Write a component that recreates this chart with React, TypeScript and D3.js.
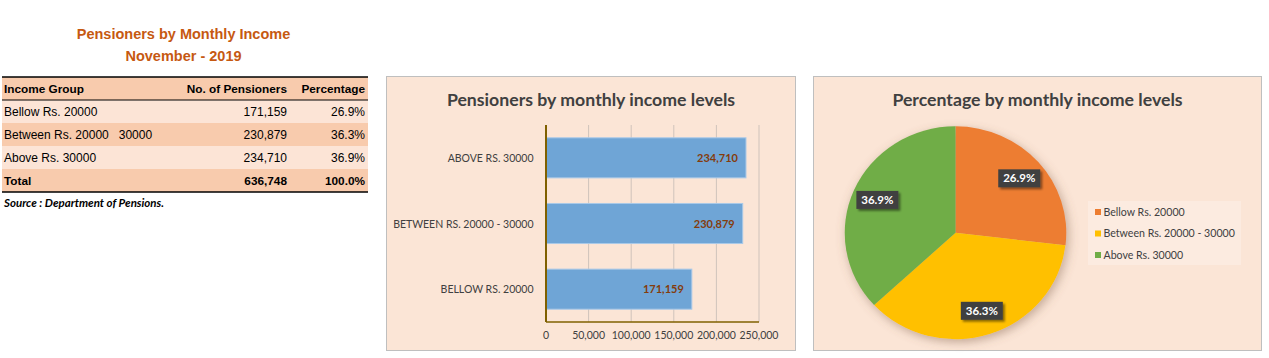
import React from "react";
import * as d3 from "d3";

const categories = ["Bellow Rs. 20000", "Between Rs. 20000 - 30000", "Above Rs. 30000"];
const tableLabels = ["Bellow Rs. 20000", "Between Rs. 20000   30000", "Above Rs. 30000"];
const pensioners = [171159, 230879, 234710];
const percentages = [26.9, 36.3, 36.9];
const totalPensioners = 636748;
const totalPercent = 100.0;
const xTicks = [0, 50000, 100000, 150000, 200000, 250000];
const sliceColors = ["#ed7d31", "#ffc000", "#70ad47"];

const fmt = d3.format(",");

export default function App() {
  // ---------- Table ----------
  const tX0 = 2, tX1 = 368;
  const rowTops = [77, 100, 123, 146, 169, 192];
  const rowFills = ["#f8cbad", "#fce4d6", "#f8cbad", "#fce4d6", "#f8cbad"];
  const tableRows = [
    ["Income Group", "No. of Pensioners", "Percentage"],
    ...tableLabels.map((l, i) => [l, fmt(pensioners[i]), percentages[i].toFixed(1) + "%"]),
    ["Total", fmt(totalPensioners), totalPercent.toFixed(1) + "%"],
  ];

  // ---------- Bar chart ----------
  const bx0 = 546, bx1 = 759, by0 = 125, by1 = 322;
  const x = d3.scaleLinear().domain([0, 250000]).range([bx0, bx1]);
  const barOrder = [2, 1, 0];
  const y = d3
    .scaleBand<number>()
    .domain(barOrder)
    .range([by0, by1])
    .paddingInner(0.39)
    .paddingOuter(0.195);

  // ---------- Pie ----------
  const cx = 955.5, cy = 232.8, r = 106.5;
  const pie = d3.pie<number>().sort(null).value((d) => d)(percentages);
  const arc = d3.arc<d3.PieArcDatum<number>>().innerRadius(0).outerRadius(r);
  const labelArc = d3.arc<d3.PieArcDatum<number>>().innerRadius(80).outerRadius(84);

  const font = "Lato, 'Open Sans', sans-serif";
  const arial = "'Liberation Sans', Arial, sans-serif";

  return (
    <svg width={1269} height={358} style={{ position: "absolute", left: 0, top: 0 }}>
      <defs>
        <filter id="pieShadow" x="-30%" y="-30%" width="160%" height="160%">
          <feDropShadow dx="2" dy="3" stdDeviation="5" floodColor="#7a5a45" floodOpacity="0.45" />
        </filter>
        <filter id="lblShadow" x="-30%" y="-30%" width="170%" height="180%">
          <feDropShadow dx="2" dy="2" stdDeviation="1.2" floodColor="#000" floodOpacity="0.45" />
        </filter>
      </defs>
      <rect x={0} y={0} width={1269} height={358} fill="#ffffff" />

      {/* Table titles */}
      <text x={183.5} y={39} textAnchor="middle" fontFamily={arial} fontWeight="bold" fontSize={14.5} fill="#c65911">
        Pensioners by Monthly Income
      </text>
      <text x={183.5} y={60.5} textAnchor="middle" fontFamily={arial} fontWeight="bold" fontSize={14.5} fill="#c65911">
        November - 2019
      </text>

      {/* Table */}
      {rowFills.map((f, i) => (
        <rect key={i} x={tX0} y={rowTops[i]} width={tX1 - tX0} height={rowTops[i + 1] - rowTops[i]} fill={f} />
      ))}
      {tableRows.map((row, i) => {
        const yy = (rowTops[i] + rowTops[i + 1]) / 2 + 4.5;
        const bold = i === 0 || i === tableRows.length - 1;
        return (
          <g key={i} fontFamily={arial} fontSize={bold ? 11.8 : 12} fontWeight={bold ? "bold" : "normal"} fill="#000">
            <text x={4} y={yy} style={{ whiteSpace: "pre" }}>{row[0]}</text>
            <text x={287} y={yy} textAnchor="end">{row[1]}</text>
            <text x={365} y={yy} textAnchor="end">{row[2]}</text>
          </g>
        );
      })}
      <line x1={tX0} x2={tX1} y1={77} y2={77} stroke="#000" strokeWidth={1.5} />
      <line x1={tX0} x2={tX1} y1={100} y2={100} stroke="#000" strokeWidth={1} />
      <line x1={tX0} x2={tX1} y1={192} y2={192} stroke="#000" strokeWidth={1.5} />
      <text x={4} y={207} fontFamily={font} fontStyle="italic" fontWeight="bold" fontSize={11.5} fill="#000">
        Source : Department of Pensions.
      </text>

      {/* Bar chart panel */}
      <rect x={386.5} y={76.5} width={409} height={274} fill="#fbe5d6" stroke="#bfbfbf" strokeWidth={1} />
      <text x={591} y={105.5} textAnchor="middle" fontFamily={font} fontWeight="bold" fontSize={17.7} fill="#404040">
        Pensioners by monthly income levels
      </text>
      {xTicks.slice(1).map((t) => (
        <line key={t} x1={x(t)} x2={x(t)} y1={by0} y2={by1} stroke="#cfc3bb" strokeWidth={1} />
      ))}
      {barOrder.map((i) => (
        <g key={i}>
          <rect
            x={x(0)}
            y={y(i)!}
            width={x(pensioners[i]) - x(0)}
            height={y.bandwidth()}
            fill="#6fa5d6"
            stroke="#a9c9e8"
            strokeWidth={1}
          />
          <text
            x={x(pensioners[i]) - 8}
            y={y(i)! + y.bandwidth() / 2 + 4}
            textAnchor="end"
            fontFamily={font}
            fontWeight="bold"
            fontSize={11}
            fill="#843c0c"
          >
            {fmt(pensioners[i])}
          </text>
          <text
            x={533.5}
            y={y(i)! + y.bandwidth() / 2 + 4}
            textAnchor="end"
            fontFamily={font}
            fontSize={10.5}
            fill="#404040"
          >
            {categories[i].toUpperCase()}
          </text>
        </g>
      ))}
      <line x1={bx0} x2={bx1} y1={by1} y2={by1} stroke="#7f6000" strokeWidth={1.5} />
      <line x1={bx0} x2={bx0} y1={by0} y2={by1} stroke="#7f6000" strokeWidth={2} />
      {xTicks.map((t) => (
        <text key={t} x={x(t)} y={339} textAnchor="middle" fontFamily={font} fontSize={10.5} fill="#404040">
          {fmt(t)}
        </text>
      ))}

      {/* Pie panel */}
      <rect x={813.5} y={76.5} width={448} height={274} fill="#fbe5d6" stroke="#bfbfbf" strokeWidth={1} />
      <text x={1037.5} y={105.5} textAnchor="middle" fontFamily={font} fontWeight="bold" fontSize={17.7} fill="#404040">
        Percentage by monthly income levels
      </text>
      <g transform={`translate(${cx},${cy}) scale(1.04,1)`} filter="url(#pieShadow)">
        {pie.map((p, i) => (
          <path key={i} d={arc(p)!} fill={sliceColors[i]} />
        ))}
      </g>
      {pie.map((p, i) => {
        const [lx, ly] = labelArc.centroid(p);
        const px = cx + lx * 1.04;
        const py = cy + ly;
        return (
          <g key={i}>
            <rect x={px - 21} y={py - 9} width={42} height={18} fill="#404040" filter="url(#lblShadow)" />
            <text x={px} y={py + 4} textAnchor="middle" fontFamily={font} fontWeight="bold" fontSize={11.5} fill="#ffffff">
              {percentages[i].toFixed(1) + "%"}
            </text>
          </g>
        );
      })}

      {/* Legend */}
      <rect x={1088} y={201} width={153} height={64} fill="#fcebe0" />
      {categories.map((c, i) => (
        <g key={c}>
          <rect x={1095} y={209 + i * 21.5} width={6} height={6} fill={sliceColors[i]} />
          <text x={1103.5} y={215.5 + i * 21.5} fontFamily={font} fontSize={10.6} fill="#404040">
            {c}
          </text>
        </g>
      ))}
    </svg>
  );
}
